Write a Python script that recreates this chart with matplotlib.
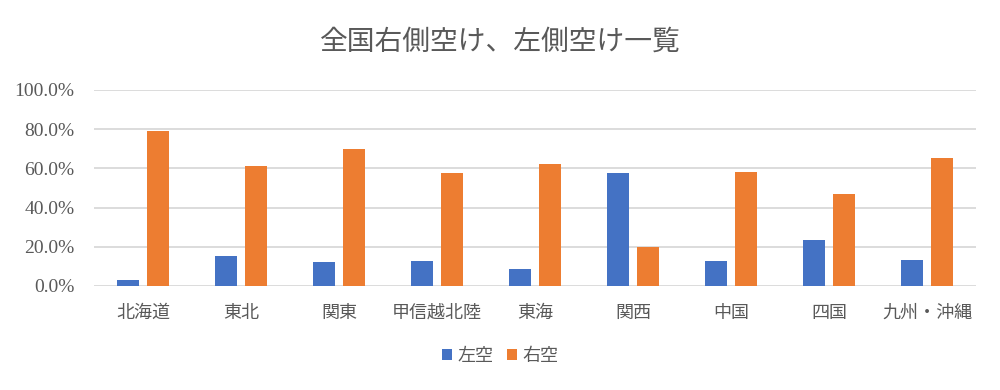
import matplotlib
matplotlib.use("Agg")
import matplotlib.pyplot as plt
import numpy as np
from matplotlib.ticker import FuncFormatter

categories = ["北海道", "東北", "関東", "甲信越北陸", "東海", "関西", "中国", "四国", "九州・沖縄"]
left_vals = [3.1, 15.3, 12.2, 12.8, 8.7, 57.7, 12.8, 23.5, 13.3]
right_vals = [79.1, 61.2, 69.9, 57.7, 62.2, 19.9, 58.2, 46.9, 65.3]
series_names = ["左空", "右空"]
title = "全国右側空け、左側空け一覧"

plt.rcParams['font.family'] = ['Noto Sans CJK JP', 'DejaVu Sans']
gray = "#595959"

fig = plt.figure(figsize=(10, 3.9), dpi=100)
ax = fig.add_axes([0.094, 0.2667, 0.882, 0.5026])

x = np.arange(len(categories))
w = 0.224
off = 0.153
ax.bar(x - off, left_vals, w, color="#4472c4", label=series_names[0], zorder=3)
ax.bar(x + off, right_vals, w, color="#ed7d31", label=series_names[1], zorder=3)

ax.set_xlim(-0.5, len(categories) - 0.5)
ax.set_ylim(0, 100)
ax.set_yticks(np.arange(0, 101, 20))
ax.yaxis.set_major_formatter(FuncFormatter(lambda v, p: f"{v:.1f}%"))
ax.grid(axis="y", color="#d9d9d9", linewidth=1.3, zorder=0)
ax.set_axisbelow(True)
for s in ax.spines.values():
    s.set_visible(False)
ax.tick_params(axis="both", length=0, colors=gray)
ax.tick_params(axis="y", pad=14)
ax.tick_params(axis="x", pad=13)
for lab in ax.get_yticklabels():
    lab.set_fontfamily(['Liberation Serif', 'DejaVu Serif'])
    lab.set_fontsize(14)
ax.set_xticks(x)
ax.set_xticklabels(categories, fontsize=13, color=gray)

fig.text(0.5, 0.892, title, ha="center", va="center", fontsize=20, color=gray)

leg = fig.legend(loc="center", bbox_to_anchor=(0.5, 0.087), ncol=2, frameon=False,
                 fontsize=13, handlelength=0.55, handleheight=0.55, handletextpad=0.3,
                 columnspacing=0.75)
for t in leg.get_texts():
    t.set_color(gray)

fig.savefig("out.png", dpi=100)
